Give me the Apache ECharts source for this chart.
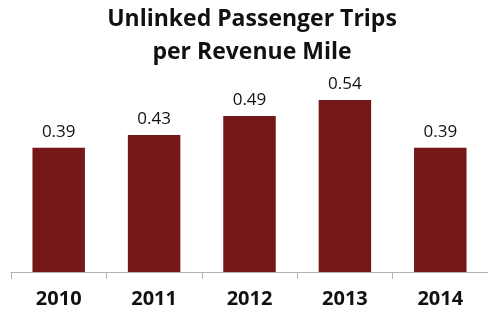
<!DOCTYPE html>
<html>
<head>
<meta charset="utf-8">
<script src="https://cdn.jsdelivr.net/npm/echarts@6/dist/echarts.min.js"></script>
<style>
html, body { margin: 0; padding: 0; background: #fff; }
#chart { width: 488px; height: 314px; }
</style>
</head>
<body>
<div id="chart"></div>
<script>
// categories and values
var years = ['2010', '2011', '2012', '2013', '2014'];
var tripsPerMile = [0.39, 0.43, 0.49, 0.54, 0.39];

var myChart = echarts.init(document.getElementById('chart'));
var options = {
    animation: false,
    title: {
        text: 'Unlinked Passenger Trips\nper Revenue Mile',
        left: 252,
        top: 3,
        padding: 0,
        textAlign: 'center',
        textStyle: {
            fontFamily: 'Open Sans',
            fontWeight: 'bold',
            fontSize: 23,
            lineHeight: 33,
            color: '#111'
        }
    },
    grid: {
        left: 11,
        right: -5,
        top: 81,
        bottom: 42
    },
    xAxis: {
        type: 'category',
        data: years,
        axisLine: { lineStyle: { color: '#b3b3b3', width: 1 } },
        axisTick: { show: true, length: 7, lineStyle: { color: '#b3b3b3' } },
        axisLabel: {
            margin: 17,
            fontFamily: 'Open Sans',
            fontWeight: 'bold',
            fontSize: 20,
            color: '#111'
        }
    },
    yAxis: {
        type: 'value',
        min: 0,
        max: 0.6,
        show: false,
        splitLine: { show: false }
    },
    series: [
        {
            type: 'bar',
            data: tripsPerMile,
            barWidth: '55%',
            itemStyle: { color: '#751619' },
            label: {
                show: true,
                position: 'top',
                distance: 7,
                fontFamily: 'Open Sans',
                fontSize: 17,
                color: '#111',
                formatter: function (p) { return p.value.toFixed(2); }
            }
        }
    ]
};
myChart.setOption(options);
</script>
</body>
</html>
